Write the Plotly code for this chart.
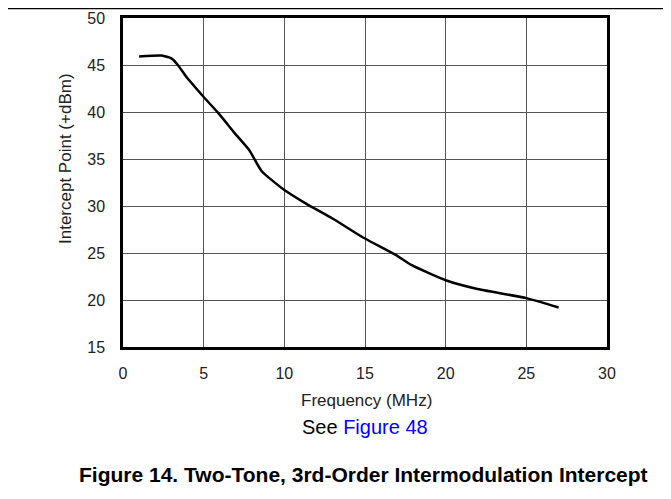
import plotly.graph_objects as go

freq_mhz = [1.0, 2.4, 3.0, 3.4, 3.9, 5.0, 5.9, 6.95, 7.8, 8.6, 9.85, 11.5, 12.96, 14.94, 16.9, 17.9, 20.0, 21.9, 25.0, 27.0]
intercept_dbm = [45.9, 46.0, 45.7, 45.0, 43.8, 41.6, 39.9, 37.7, 36.0, 33.7, 31.9, 30.1, 28.7, 26.6, 24.8, 23.7, 22.1, 21.2, 20.2, 19.2]
x_ticks = [0, 5, 10, 15, 20, 25, 30]
y_ticks = [15, 20, 25, 30, 35, 40, 45, 50]

W, H = 671, 499
OFF = 8  # page body margin
# plot area in page pixels
P_L, P_R, P_T, P_B = 123, 607, 18, 347
L, R, T, B = P_L - OFF, W - (P_R - OFF), P_T - OFF, H - (P_B - OFF)
PW, PH = W - L - R, H - T - B
FONT = "Arial, Liberation Sans, sans-serif"


def px(xp):
    return (xp - OFF - L) / PW


def py(yp):
    return (H - B - (yp - OFF)) / PH


fig = go.Figure()
fig.add_trace(go.Scatter(x=freq_mhz, y=intercept_dbm, mode="lines",
                         line=dict(color="black", width=2.5, shape="spline", smoothing=0.5),
                         showlegend=False, hoverinfo="skip"))

axis_common = dict(showgrid=True, gridcolor="#555555", gridwidth=1,
                   showline=True, linecolor="black", linewidth=2.5, mirror=True,
                   zeroline=False, ticks="", tickfont=dict(family=FONT, size=16, color="#222"))

fig.update_xaxes(range=[0, 30], tickvals=x_ticks, ticklabelstandoff=10, **axis_common)
fig.update_yaxes(range=[15, 50], tickvals=y_ticks, ticklabelstandoff=12, **axis_common)

annotations = [
    dict(text="Frequency (MHz)", x=px(366), y=py(400), font=dict(size=17, color="#222")),
    dict(text="See <span style='color:#0000ff'>Figure 48</span>", x=px(365), y=py(427),
         font=dict(size=20, color="black")),
    dict(text="<b>Figure 14. Two-Tone, 3rd-Order Intermodulation Intercept</b>", x=px(363), y=py(474),
         font=dict(size=21, color="black")),
    dict(text="Intercept Point (+dBm)", x=px(65), y=py(159), textangle=-90,
         font=dict(size=17, color="#222")),
]
for a in annotations:
    a.update(xref="paper", yref="paper", showarrow=False, xanchor="center", yanchor="middle")
    a["font"]["family"] = FONT

fig.update_layout(
    width=W, height=H,
    margin=dict(l=L, r=R, t=T, b=B, autoexpand=False),
    paper_bgcolor="white", plot_bgcolor="white",
    annotations=annotations,
    shapes=[dict(type="line", xref="paper", yref="paper", x0=px(0), x1=px(W + 20), y0=py(8.5), y1=py(8.5),
                 line=dict(color="black", width=1.5))],
)

fig.write_html("out.html")
